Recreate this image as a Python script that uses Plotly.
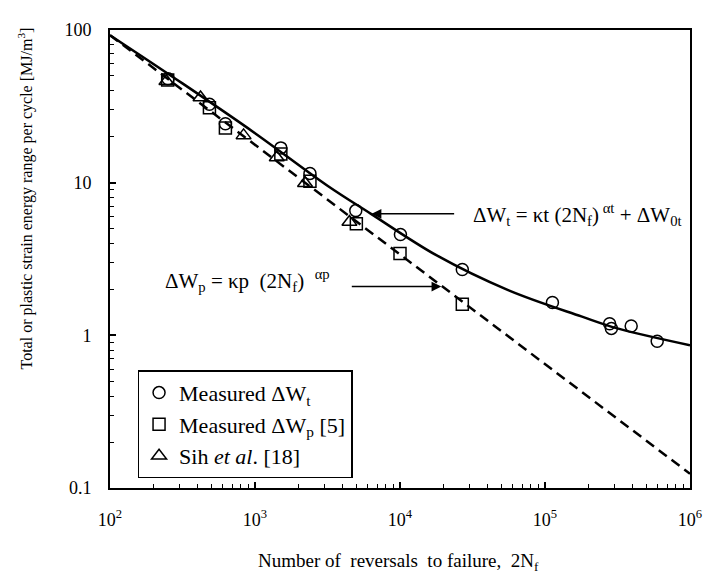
import plotly.graph_objects as go

# ---- data ----
circle_x = [251, 485, 625, 1507, 2393, 4955, 10070, 26900, 112500, 279000, 287000, 393000, 594000]
circle_y = [47.9, 32.6, 24.3, 16.9, 11.5, 6.56, 4.58, 2.70, 1.64, 1.19, 1.11, 1.15, 0.914]

square_x = [250, 485, 625, 1507, 2393, 5000, 10000, 26900]
square_y = [47.0, 31.0, 22.8, 15.4, 10.2, 5.39, 3.44, 1.60]

tri_x = [245, 421, 834, 1413, 2213, 4480]
tri_y = [46.2, 36.1, 20.4, 14.6, 9.9, 5.53]

total_fit_x = [100, 316, 1000, 3162, 6310, 17800, 56200, 178000, 316000, 1000000]
total_fit_y = [92.5, 44.7, 21.1, 9.55, 6.25, 3.35, 1.97, 1.33, 1.11, 0.861]

plastic_fit_x = [100, 1000000]
plastic_fit_y = [92.5, 0.124]

x_tick_vals = [1e2, 1e3, 1e4, 1e5, 1e6]
x_tick_text = ["10<sup>2</sup>", "10<sup>3</sup>", "10<sup>4</sup>", "10<sup>5</sup>", "10<sup>6</sup>"]
y_tick_vals = [0.1, 1, 10, 100]
y_tick_text = ["0.1", "1", "10", "100"]

FONT = "Liberation Serif, Times New Roman, serif"

fig = go.Figure()

fig.add_trace(go.Scatter(x=total_fit_x, y=total_fit_y, mode="lines",
                         line=dict(color="black", width=2.5, shape="spline", smoothing=1.0),
                         showlegend=False, hoverinfo="skip"))
fig.add_trace(go.Scatter(x=plastic_fit_x, y=plastic_fit_y, mode="lines",
                         line=dict(color="black", width=2.5, dash="10px,6px"),
                         showlegend=False, hoverinfo="skip"))

mk = dict(color="black", size=12, line=dict(color="black", width=1.5))
fig.add_trace(go.Scatter(x=circle_x, y=circle_y, mode="markers",
                         marker=dict(mk, symbol="circle-open"),
                         name="Measured ΔW<sub>t</sub>"))
fig.add_trace(go.Scatter(x=square_x, y=square_y, mode="markers",
                         marker=dict(mk, symbol="square-open"),
                         name="Measured ΔW<sub>p</sub> [5]"))
fig.add_trace(go.Scatter(x=tri_x, y=tri_y, mode="markers",
                         marker=dict(mk, symbol="triangle-up-open", size=13),
                         name="Sih <i>et al</i>. [18]"))

x_minor = [m * 10 ** e for e in range(2, 6) for m in range(2, 10)]
y_minor = [m * 10 ** e for e in range(-1, 2) for m in range(2, 10)]

axis_common = dict(type="log", showline=True, linewidth=2, linecolor="black", mirror=True,
                   showgrid=False, zeroline=False, ticks="inside", ticklen=6, tickwidth=1.5,
                   tickcolor="black", tickfont=dict(family=FONT, size=18, color="black"))

fig.update_xaxes(axis_common, range=[2, 6], tickmode="array", tickvals=x_tick_vals,
                 ticktext=x_tick_text, ticklabelstandoff=14,
                 minor=dict(tickvals=x_minor, ticks="inside", ticklen=4, tickwidth=1.2,
                            tickcolor="black", showgrid=False))
fig.update_yaxes(axis_common, range=[-1, 2], tickmode="array", tickvals=y_tick_vals,
                 ticktext=y_tick_text, ticklabelstandoff=13,
                 minor=dict(tickvals=y_minor, ticks="inside", ticklen=4, tickwidth=1.2,
                            tickcolor="black", showgrid=False))

annotations = [
    dict(text="Total or plastic strain energy range per cycle [MJ/m<sup>3</sup>]",
         xref="paper", yref="paper", x=-0.1458, y=0.633, textangle=-90,
         xanchor="center", yanchor="middle", showarrow=False,
         font=dict(family=FONT, size=16, color="black")),
    dict(text="Number of  reversals  to failure,  2N<sub>f</sub>",
         xref="paper", yref="paper", x=0.497, y=-0.161,
         xanchor="center", yanchor="middle", showarrow=False,
         font=dict(family=FONT, size=19, color="black")),
    dict(text="ΔW<sub>t</sub> = κt (2N<sub>f</sub>)<sup> αt</sup> + ΔW<sub>0t</sub>",
         xref="paper", yref="paper", x=0.6226, y=0.598,
         xanchor="left", yanchor="middle", showarrow=False,
         font=dict(family=FONT, size=21, color="black")),
    dict(text="ΔW<sub>p</sub> = κp  (2N<sub>f</sub>)  <sup>αp</sup>",
         xref="paper", yref="paper", x=0.0909, y=0.4528,
         xanchor="left", yanchor="middle", showarrow=False,
         font=dict(family=FONT, size=21, color="black")),
    dict(text="", xref="paper", yref="paper", x=0.4511, y=0.5987,
         ax=84, ay=0, showarrow=True, arrowhead=2, arrowsize=1.3, arrowwidth=1.5,
         arrowcolor="black"),
    dict(text="", xref="paper", yref="paper", x=0.5712, y=0.4399,
         ax=-91, ay=0, showarrow=True, arrowhead=2, arrowsize=1.3, arrowwidth=1.5,
         arrowcolor="black"),
]

# The page body adds an 8px offset, so the figure is 8px smaller and margins compensate.
fig.update_layout(
    width=706, height=569,
    margin=dict(l=102, r=21, t=14, b=89),
    plot_bgcolor="white", paper_bgcolor="white",
    font=dict(family=FONT, size=18, color="black"),
    legend=dict(x=0.0475, y=0.257, xanchor="left", yanchor="top",
                bordercolor="black", borderwidth=1.5, bgcolor="white",
                font=dict(family=FONT, size=22, color="black"),
                tracegroupgap=0, itemwidth=30),
    annotations=annotations,
)

fig.write_html("out.html")
